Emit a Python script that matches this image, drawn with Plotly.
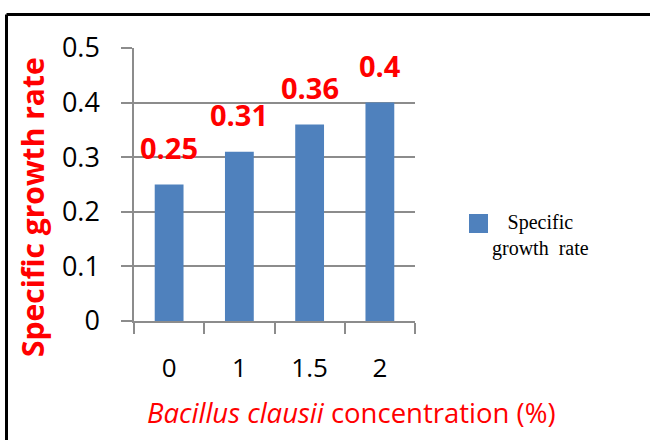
import plotly.graph_objects as go

# Growth data
concentrations = ["0", "1", "1.5", "2"]
growth_rate = [0.25, 0.31, 0.36, 0.40]
value_labels = ["0.25", "0.31", "0.36", "0.4"]
y_ticks = [0, 0.1, 0.2, 0.3, 0.4, 0.5]
y_tick_text = ["0", "0.1", "0.2", "0.3", "0.4", "0.5"]

W, H = 650, 440
L, R, T, B = 134, 415, 48, 321  # plot area in pixels

def px(x):
    return (x - L) / (R - L)

def py(y):
    return (B - y) / (B - T)

bar_color = "#4F81BD"
grid_color = "#8C8C8C"
red = "#FF0000"
sans = "'Open Sans', Lato, sans-serif"

fig = go.Figure()
fig.add_trace(go.Bar(
    x=concentrations, y=growth_rate,
    marker=dict(color=bar_color, line=dict(width=0)),
    showlegend=False,
))

# value labels above the bars (category index positions)
for i, (v, t) in enumerate(zip(growth_rate, value_labels)):
    fig.add_annotation(x=i, y=v, text=t, showarrow=False,
                       xanchor="center", yanchor="middle", yshift=37,
                       font=dict(family=sans, size=29, color=red, weight="bold"))

# axis titles
fig.add_annotation(xref="paper", yref="paper", x=px(33), y=py(207),
                   xanchor="center", yanchor="middle",
                   text="Specific growth rate", textangle=-90, showarrow=False,
                   font=dict(family=sans, size=30, color=red, weight="bold"))
fig.add_annotation(xref="paper", yref="paper", x=px(351), y=py(412),
                   xanchor="center", yanchor="middle",
                   text="<i>Bacillus clausii</i> concentration (%)", showarrow=False,
                   font=dict(family=sans, size=27.5, color=red))

# legend: swatch plus centred label
fig.add_shape(type="rect", xref="paper", yref="paper",
              x0=px(469), x1=px(488), y0=py(233), y1=py(214),
              fillcolor=bar_color, line=dict(width=0))
fig.add_annotation(xref="paper", yref="paper", x=px(540), y=py(235),
                   xanchor="center", yanchor="middle",
                   text="Specific<br>growth  rate", showarrow=False, align="center",
                   font=dict(family="'Liberation Serif', serif", size=20, color="black"))

# outer frame (top and left edges)
fig.add_shape(type="line", xref="paper", yref="paper",
              x0=px(6.5), x1=px(660), y0=py(14.5), y1=py(14.5),
              line=dict(color="black", width=3))
fig.add_shape(type="line", xref="paper", yref="paper",
              x0=px(6.5), x1=px(6.5), y0=py(14.5), y1=py(450),
              line=dict(color="black", width=3))

fig.update_layout(
    width=W, height=H,
    margin=dict(l=L, r=W - R, t=T, b=H - B, pad=0),
    paper_bgcolor="white", plot_bgcolor="white",
    bargap=0.59,
    font=dict(family=sans, color="black"),
)
fig.update_yaxes(
    range=[0, 0.5], tickvals=y_ticks, ticktext=y_tick_text,
    showgrid=True, gridcolor=grid_color, gridwidth=1.5,
    showline=True, linecolor=grid_color, linewidth=1.5,
    ticks="outside", ticklen=11, tickcolor=grid_color, tickwidth=1.5,
    ticklabelstandoff=16, tickfont=dict(size=27, color="black"),
    zeroline=False,
)
fig.update_xaxes(
    type="category",
    showline=True, linecolor=grid_color, linewidth=1.5,
    ticks="outside", tickson="boundaries", ticklen=11, tickcolor=grid_color, tickwidth=1.5,
    ticklabelstandoff=23, tickfont=dict(size=26, color="black"),
    showgrid=False,
)

fig.write_html("out.html")
